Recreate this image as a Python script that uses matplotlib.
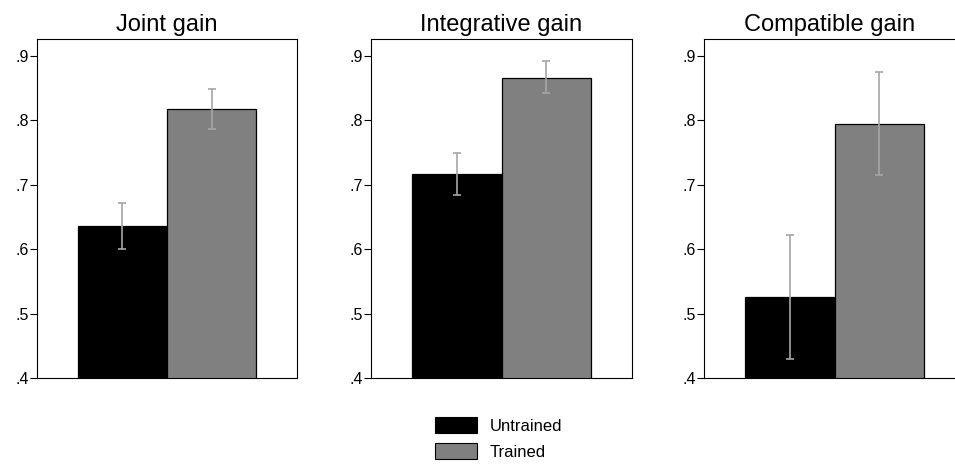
import matplotlib
matplotlib.use("Agg")
import matplotlib.pyplot as plt
from matplotlib.patches import Patch
import numpy as np

plt.rcParams['font.family'] = ['Liberation Sans', 'DejaVu Sans']

titles = ["Joint gain", "Integrative gain", "Compatible gain"]
groups = ["Untrained", "Trained"]
colors = ["#000000", "#808080"]

means = {
    "Joint gain":       [0.636, 0.817],
    "Integrative gain": [0.717, 0.866],
    "Compatible gain":  [0.526, 0.794],
}
ci_low = {
    "Joint gain":       [0.600, 0.787],
    "Integrative gain": [0.684, 0.842],
    "Compatible gain":  [0.430, 0.715],
}
ci_high = {
    "Joint gain":       [0.672, 0.848],
    "Integrative gain": [0.749, 0.892],
    "Compatible gain":  [0.622, 0.875],
}

yticks = [0.4, 0.5, 0.6, 0.7, 0.8, 0.9]
ytick_labels = [".4", ".5", ".6", ".7", ".8", ".9"]

W, H = 955, 465
fig = plt.figure(figsize=(W / 100, H / 100), dpi=100)

# axes boxes in pixels: left, right (last panel runs past the image edge)
boxes = [(37, 297), (371, 632), (704, 965)]
top_px, bot_px = 39, 378

x = np.arange(len(groups))
for (l, r), t in zip(boxes, titles):
    ax = fig.add_axes([l / W, 1 - bot_px / H, (r - l) / W, (bot_px - top_px) / H])
    m = np.array(means[t])
    lo = m - np.array(ci_low[t])
    hi = np.array(ci_high[t]) - m
    ax.bar(x, m, width=1.0, color=colors, edgecolor="black", linewidth=0.9, zorder=2)
    ax.errorbar(x, m, yerr=[lo, hi], fmt="none", ecolor="#a6a6a6",
                elinewidth=1.2, capsize=2.6, capthick=1.2, zorder=3)
    ax.set_ylim(0.4, 0.926)
    ax.set_xlim(-0.5 - 0.453, 1.5 + 0.453)
    ax.set_yticks(yticks)
    ax.set_yticklabels(ytick_labels)
    ax.set_xticks([])
    ax.tick_params(axis="y", labelsize=11.5, length=5, width=0.8, pad=1)
    for s in ax.spines.values():
        s.set_linewidth(0.8)
    # title centred on the visible part of the box
    ax.set_title(t, fontsize=17, pad=6, x=(min(r, W) - l) / (r - l) / 2 if r > W else 0.5)

handles = [Patch(facecolor=c, edgecolor="black", linewidth=0.8) for c in colors]
fig.legend(handles, groups, loc="center", bbox_to_anchor=(499 / W, 1 - 438.5 / H),
           frameon=False, fontsize=12, handlelength=2.5, handleheight=1.08,
           labelspacing=0.54, handletextpad=0.78)

fig.savefig("out.png", dpi=100)
